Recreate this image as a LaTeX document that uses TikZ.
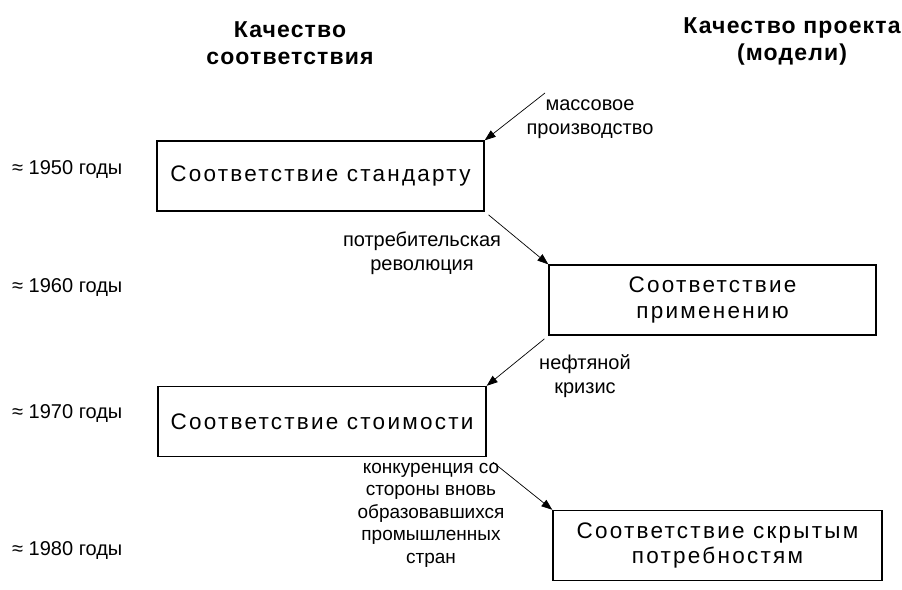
\documentclass[tikz,border=0pt]{standalone}
\usepackage{fontspec}
\setmainfont{Liberation Sans}
\newfontfamily\boxfont[LetterSpace=10]{Liberation Sans}
\newfontfamily\hdrfont[LetterSpace=5]{Liberation Sans}
\usetikzlibrary{arrows.meta,calc}
\tikzset{
  stagebox/.style={draw, line width=1.3pt, minimum width=327pt, minimum height=70pt, inner sep=0pt, align=center, font=\boxfont\fontsize{22.5}{25.5}\selectfont},
  hdr/.style={align=center, font=\hdrfont\bfseries\fontsize{23}{27}\selectfont, inner sep=0pt},
  lbl/.style={align=center, font=\fontsize{20}{24.5}\selectfont, inner sep=0pt},
  yr/.style={anchor=west, font=\fontsize{20}{22}\selectfont, inner sep=0pt},
  arr/.style={line width=0.7pt, -{Triangle[length=11pt,width=8pt]}}
}
\begin{document}
\begin{tikzpicture}[x=1pt,y=-1pt]
\useasboundingbox (0,0) rectangle (902,589);
% headers
\node[hdr] (h1) at (290,43) {Качество\\соответствия};
\node[hdr] (h2) at (792,41) {Качество проекта\\(модели)};
% boxes
\node[stagebox] (b1) at (320.5,176) {Соответствие стандарту};
\node[stagebox] (b2) at (712.5,300) {Соответствие\\применению};
\node[stagebox, minimum width=328pt] (b3) at (322,421.5) {Соответствие стоимости};
\node[stagebox, minimum width=329pt] (b4) at (717.5,545.5) {Соответствие скрытым\\потребностям};
% years
\node[yr] (y1) at (12,170) {≈ 1950 годы};
\node[yr] (y2) at (12,288) {≈ 1960 годы};
\node[yr] (y3) at (12,414) {≈ 1970 годы};
\node[yr] (y4) at (12,551) {≈ 1980 годы};
% arrows
\coordinate (s1) at (545,93);
\draw[arr] (s1) -- (b1.north east);
\draw[arr, shorten <=5pt] (b1.south east) -- (b2.north west);
\draw[arr, shorten <=5pt] (b2.south west) -- (b3.north east);
\draw[arr, shorten <=8pt] (b3.south east) -- (b4.north west);
% labels
\node[lbl] (l1) at (590,119) {массовое\\производство};
\node[lbl] (l2) at (422,253) {потребительская\\революция};
\node[lbl] (l3) at (585,376) {нефтяной\\кризис};
\node[lbl, font=\fontsize{19}{22.5}\selectfont] (l4) at (431,515) {конкуренция со\\стороны вновь\\образовавшихся\\промышленных\\стран};
\end{tikzpicture}
\end{document}
